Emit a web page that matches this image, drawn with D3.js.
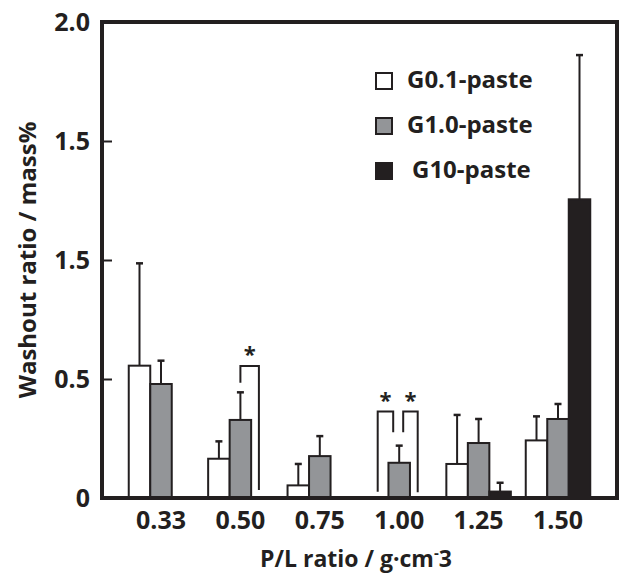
<!DOCTYPE html>
<html>
<head>
<meta charset="utf-8">
<script src="https://cdn.jsdelivr.net/npm/d3@7"></script>
<style>
  body { margin: 0; background: #fff; }
  text { font-family: "Open Sans", sans-serif; font-weight: bold; fill: #231f20; }
</style>
</head>
<body>
<svg id="chart" width="619" height="576"></svg>
<script>
const categories = ['0.33', '0.50', '0.75', '1.00', '1.25', '1.50'];
const series = ['G0.1-paste', 'G1.0-paste', 'G10-paste'];
const seriesFill = ['#ffffff', '#939598', '#231f20'];

// null = no bar measured
const g01Values = [0.556, 0.165, 0.053, null, 0.143, 0.242];
const g01Errors = [0.430, 0.073, 0.090, null, 0.206, 0.101];
const g10Values = [0.479, 0.328, 0.176, 0.148, 0.231, 0.332];
const g10Errors = [0.098, 0.116, 0.084, 0.072, 0.101, 0.063];
const g100Values = [null, null, null, null, 0.027, 1.255];
const g100Errors = [null, null, null, null, 0.037, 0.606];

const yTickValues = [0, 0.5, 1.0, 1.5, 2.0];
const yTickLabels = ['0', '0.5', '1.5', '1.5', '2.0'];

// significance brackets: category, left/right series index, top, leg bottoms
const brackets = [
  { cat: '0.50', a: 1, b: 2, top: 0.555, aLow: 0.484, bLow: 0.034 },
  { cat: '1.00', a: 0, b: 1, top: 0.363, aLow: 0.026, bLow: 0.276 },
  { cat: '1.00', a: 1, b: 2, top: 0.363, aLow: 0.276, bLow: 0.024 },
];

const ink = '#231f20';
const svg = d3.select('#chart');
const frame = { left: 102, right: 617, top: 22, bottom: 498 };

const y = d3.scaleLinear().domain([0, 2]).range([frame.bottom, frame.top]);
const x0 = d3.scaleBand().domain(categories).range([121.3, 597.7]).padding(0);
const barW = 21.5;
const x1 = d3.scaleBand().domain(series)
  .range([x0.bandwidth() / 2 - 1.5 * barW, x0.bandwidth() / 2 + 1.5 * barW]);

const rows = categories.flatMap((c, i) => [
  { cat: c, s: 0, v: g01Values[i], e: g01Errors[i] },
  { cat: c, s: 1, v: g10Values[i], e: g10Errors[i] },
  { cat: c, s: 2, v: g100Values[i], e: g100Errors[i] },
]).filter(d => d.v !== null);

const barX = d => x0(d.cat) + x1(series[d.s]);
const barCx = (cat, s) => x0(cat) + x1(series[s]) + barW / 2;

// error bars (upper only), drawn first so the bar covers the stem
const err = svg.append('g');
err.selectAll('line.stem').data(rows).join('line')
  .attr('class', 'stem')
  .attr('x1', d => barCx(d.cat, d.s)).attr('x2', d => barCx(d.cat, d.s))
  .attr('y1', d => y(d.v)).attr('y2', d => y(d.v + d.e))
  .attr('stroke', ink).attr('stroke-width', 2);
err.selectAll('line.cap').data(rows).join('line')
  .attr('class', 'cap')
  .attr('x1', d => barCx(d.cat, d.s) - 3.5).attr('x2', d => barCx(d.cat, d.s) + 3.5)
  .attr('y1', d => y(d.v + d.e)).attr('y2', d => y(d.v + d.e))
  .attr('stroke', ink).attr('stroke-width', 2.5);

svg.append('g').selectAll('rect').data(rows).join('rect')
  .attr('x', barX)
  .attr('y', d => y(d.v))
  .attr('width', barW)
  .attr('height', d => y(0) - y(d.v))
  .attr('fill', d => seriesFill[d.s])
  .attr('stroke', ink)
  .attr('stroke-width', 2);

// brackets + stars
const br = svg.append('g');
brackets.forEach(b => {
  const shared = brackets.filter(o => o.cat === b.cat).length > 1;
  let xa = barCx(b.cat, b.a), xb = barCx(b.cat, b.b);
  if (shared && b.a === 1) xa += 4;
  if (shared && b.b === 1) xb -= 6;
  if (b.b === 2) xb -= 3;
  br.append('path')
    .attr('d', `M${xa},${y(b.aLow)}V${y(b.top)}H${xb}V${y(b.bLow)}`)
    .attr('fill', 'none').attr('stroke', ink).attr('stroke-width', 2);
  br.append('text')
    .attr('x', (xa + xb) / 2).attr('y', y(b.top) - 4)
    .attr('text-anchor', 'middle').attr('font-size', 22)
    .text('*');
});

// frame
svg.append('rect')
  .attr('x', frame.left).attr('y', frame.top)
  .attr('width', frame.right - frame.left).attr('height', frame.bottom - frame.top)
  .attr('fill', 'none').attr('stroke', ink).attr('stroke-width', 4);

// y axis
const yAxis = d3.axisLeft(y).tickValues(yTickValues)
  .tickSize(-10).tickPadding(12)
  .tickFormat((d, i) => yTickLabels[i]);
const ya = svg.append('g').attr('transform', `translate(${frame.left},0)`).call(yAxis);
ya.select('.domain').remove();
ya.selectAll('line').attr('stroke', ink).attr('stroke-width', 2);
ya.selectAll('text').attr('font-size', 25).attr('fill', ink)
  .style('font-family', '"Open Sans", sans-serif').style('font-weight', 'bold');

// x axis labels
const xAxis = d3.axisBottom(x0).tickSize(0).tickPadding(13);
const xa = svg.append('g').attr('transform', `translate(0,${frame.bottom})`).call(xAxis);
xa.select('.domain').remove();
xa.selectAll('text').attr('font-size', 25).attr('fill', ink)
  .style('font-family', '"Open Sans", sans-serif').style('font-weight', 'bold');

// axis titles
svg.append('text')
  .attr('transform', `translate(36,${(frame.top + frame.bottom) / 2}) rotate(-90)`)
  .attr('text-anchor', 'middle').attr('font-size', 24)
  .text('Washout ratio /  mass%');
const xTitle = svg.append('text')
  .attr('x', 356).attr('y', 567)
  .attr('text-anchor', 'middle').attr('font-size', 23);
xTitle.append('tspan').text('P/L ratio / g·cm');
xTitle.append('tspan').attr('dy', -9).attr('font-size', 15).text('-');
xTitle.append('tspan').attr('dy', 9).text('3');

// legend
const legend = svg.append('g').selectAll('g').data(series).join('g')
  .attr('transform', (d, i) => `translate(376,${73 + i * 45})`);
legend.append('rect')
  .attr('width', 16).attr('height', 16)
  .attr('fill', (d, i) => seriesFill[i])
  .attr('stroke', ink).attr('stroke-width', 2);
legend.append('text')
  .attr('x', (d, i) => i === 2 ? 36 : 31).attr('y', 15)
  .attr('font-size', 24)
  .text(d => d);
</script>
</body>
</html>
